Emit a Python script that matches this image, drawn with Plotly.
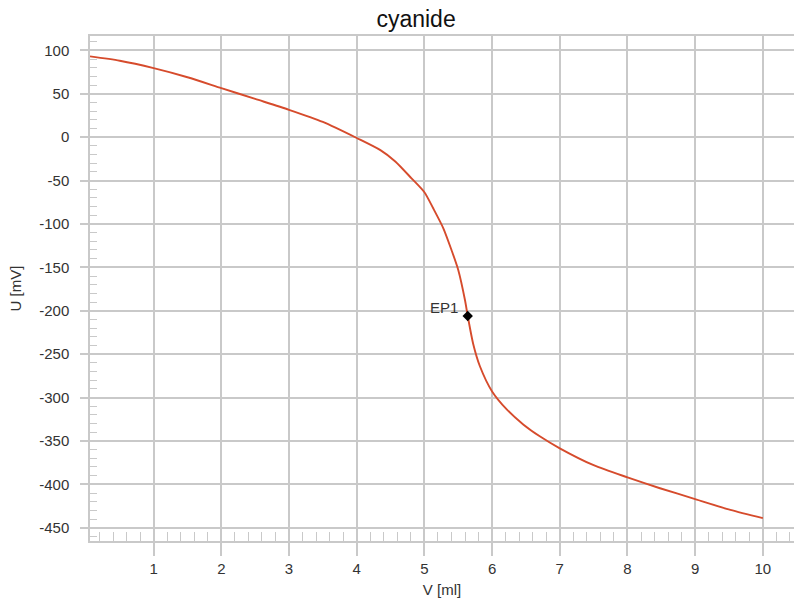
import plotly.graph_objects as go

# Titration curve: added titrant volume vs electrode potential
volume_ml = [0.06, 0.5, 1.0, 1.5, 2.0, 2.5, 3.0, 3.5, 4.0, 4.35, 4.57, 4.81,
             5.0, 5.13, 5.28, 5.40, 5.50, 5.60, 5.64, 5.72, 5.82, 6.0,
             6.22, 6.46, 6.71, 7.0, 7.5, 8.0, 8.48, 9.0, 9.52, 10.0]
potential_mv = [93, 88, 79.5, 69, 56.5, 44, 31.5, 17.5, -1, -15, -28, -47.5,
                -63.5, -82, -105, -130, -153, -188, -206, -238, -264, -293,
                -314, -331, -345, -358.5, -378, -392, -404.5, -417, -429.5, -439]

# Equivalence point
ep_label = "EP1"
ep_volume = 5.64
ep_potential = -206

x_ticks = [1, 2, 3, 4, 5, 6, 7, 8, 9, 10]
y_ticks = [100, 50, 0, -50, -100, -150, -200, -250, -300, -350, -400, -450]

GRID = "#c9c9c9"
TEXT = "#333333"
FONT = "Liberation Sans, Arial, sans-serif"

fig = go.Figure()
fig.add_trace(go.Scatter(
    x=volume_ml, y=potential_mv, mode="lines",
    line=dict(color="#d64b2c", width=1.9, shape="spline", smoothing=0.7),
    hoverinfo="skip", showlegend=False,
))
fig.add_trace(go.Scatter(
    x=[ep_volume], y=[ep_potential], mode="markers",
    marker=dict(symbol="diamond", size=8, color="black"),
    showlegend=False,
))
fig.add_annotation(
    x=ep_volume, y=ep_potential, text=ep_label, showarrow=False,
    xanchor="right", yanchor="middle", xshift=-8, yshift=8,
    font=dict(family=FONT, size=15, color=TEXT),
)
# Vertical axis title, placed close to the page edge
fig.add_annotation(
    text="U [mV]", xref="paper", yref="paper",
    x=-75 / 704, y=0.5, xanchor="center", yanchor="middle",
    textangle=-90, showarrow=False,
    font=dict(family=FONT, size=15, color=TEXT),
)

fig.update_layout(
    width=794, height=601,
    margin=dict(l=90, r=0, t=36, b=60),
    paper_bgcolor="white", plot_bgcolor="white",
    font=dict(family=FONT, size=15, color=TEXT),
    title=dict(text="cyanide", x=0.524, xanchor="center", y=0.968,
               yanchor="middle", xref="container", yref="container",
               font=dict(family=FONT, size=23, color="#111111")),
    xaxis=dict(
        range=[0.06, 10.46], tickvals=x_ticks,
        ticktext=[str(v) for v in x_ticks],
        showgrid=True, gridcolor=GRID, gridwidth=1.5,
        showline=True, linecolor=GRID, linewidth=1.5, mirror=True,
        ticks="outside", ticklen=13, tickcolor=GRID, tickwidth=1.5,
        minor=dict(dtick=0.2, ticks="inside", ticklen=9, tickcolor=GRID,
                   tickwidth=1, showgrid=False),
        zeroline=False,
        title=dict(text="V [ml]", standoff=9, font=dict(size=15)),
        tickfont=dict(size=15, color=TEXT),
    ),
    yaxis=dict(
        range=[-465.3, 116.5], tickvals=y_ticks,
        ticktext=[str(v) for v in y_ticks],
        ticklabelstandoff=8,
        showgrid=True, gridcolor=GRID, gridwidth=1.5,
        showline=True, linecolor=GRID, linewidth=1.5,
        ticks="outside", ticklen=8, tickcolor=GRID, tickwidth=1.5,
        minor=dict(dtick=10, ticks="inside", ticklen=7, tickcolor=GRID,
                   tickwidth=1, showgrid=False),
        zeroline=False,
        tickfont=dict(size=15, color=TEXT),
    ),
)

fig.write_html("out.html")
